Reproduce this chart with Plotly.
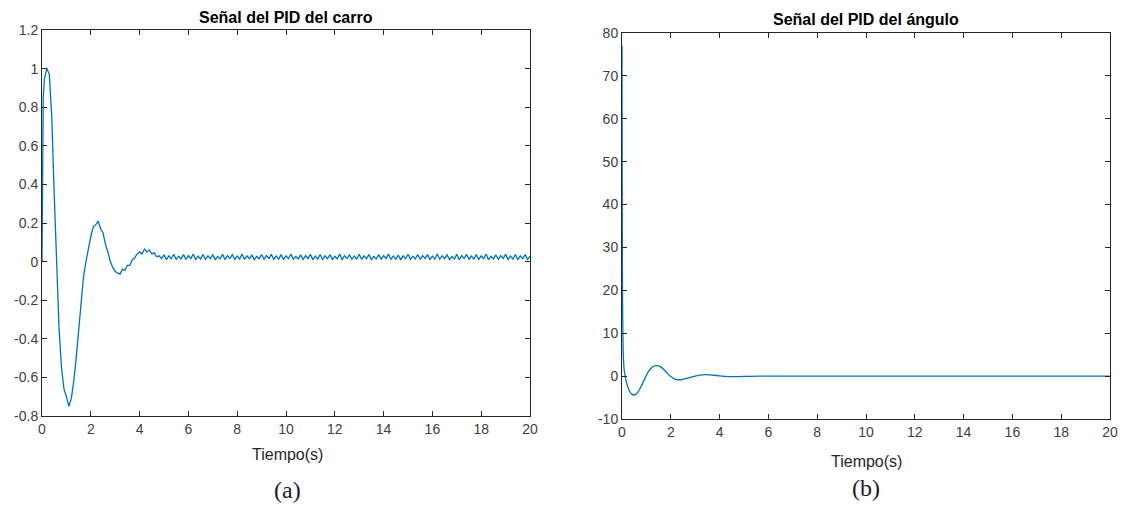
import numpy as np
import plotly.graph_objects as go

# ---------------- data: left panel (cart PID signal) ----------------
carro_t_early = [0.0, 0.05, 0.1, 0.2, 0.3, 0.4, 0.5, 0.6, 0.7, 0.8, 0.9, 1.0, 1.1, 1.2, 1.3,
                 1.4, 1.5, 1.6, 1.7, 1.8, 1.9, 2.0, 2.1, 2.2, 2.3, 2.4, 2.5, 2.6, 2.7, 2.8,
                 2.9, 3.0, 3.1, 3.2, 3.3, 3.4, 3.5, 3.6, 3.7, 3.8, 3.9, 4.0, 4.1, 4.2, 4.3,
                 4.4, 4.5, 4.6, 4.7, 4.8, 4.9]
carro_v_early = [0.0, 0.85, 0.95, 1.0, 0.97, 0.75, 0.35, -0.05, -0.35, -0.55, -0.66, -0.70,
                 -0.75, -0.71, -0.62, -0.50, -0.36, -0.20, -0.08, 0.0, 0.07, 0.13, 0.18, 0.19,
                 0.21, 0.17, 0.15, 0.09, 0.05, 0.0, -0.03, -0.05, -0.06, -0.065, -0.04, -0.045,
                 -0.02, -0.02, 0.01, 0.02, 0.04, 0.05, 0.04, 0.065, 0.05, 0.06, 0.04, 0.045,
                 0.025, 0.03, 0.015]
# steady-state ripple, sampled every 0.1 s from 5.0 s to 20.0 s
carro_v_ripple = [
    0.035, 0.010, 0.030, 0.015, 0.038, 0.012, 0.028, 0.014, 0.036, 0.011, 0.031, 0.016,
    0.039, 0.010, 0.029, 0.013, 0.037, 0.012, 0.030, 0.015, 0.035, 0.011, 0.027, 0.014,
    0.038, 0.010, 0.031, 0.016, 0.036, 0.012, 0.029, 0.013, 0.039, 0.011, 0.030, 0.015,
    0.034, 0.010, 0.028, 0.014, 0.037, 0.012, 0.031, 0.016, 0.038, 0.011, 0.029, 0.013,
    0.036, 0.010, 0.030, 0.015, 0.039, 0.012, 0.027, 0.014, 0.035, 0.011, 0.031, 0.016,
    0.038, 0.010, 0.029, 0.013, 0.037, 0.012, 0.030, 0.015, 0.036, 0.011, 0.028, 0.014,
    0.039, 0.010, 0.031, 0.016, 0.035, 0.012, 0.029, 0.013, 0.038, 0.011, 0.030, 0.015,
    0.037, 0.010, 0.027, 0.014, 0.036, 0.012, 0.031, 0.016, 0.039, 0.011, 0.029, 0.013,
    0.034, 0.010, 0.030, 0.015, 0.038, 0.012, 0.028, 0.014, 0.037, 0.011, 0.031, 0.016,
    0.036, 0.010, 0.029, 0.013, 0.039, 0.012, 0.030, 0.015, 0.035, 0.011, 0.027, 0.014,
    0.038, 0.010, 0.031, 0.016, 0.037, 0.012, 0.029, 0.013, 0.036, 0.011, 0.030, 0.015,
    0.039, 0.010, 0.028, 0.014, 0.035, 0.012, 0.031, 0.016, 0.038, 0.011, 0.029, 0.013,
    0.037, 0.010, 0.030, 0.015, 0.036, 0.012, 0.028,
]
carro_t_ripple = list(np.round(np.arange(5.0, 20.0001, 0.1), 2))

# ---------------- data: right panel (angle PID signal) ----------------
angulo_t = [0.0, 0.01, 0.02, 0.04, 0.06, 0.1, 0.2, 0.3, 0.4, 0.5, 0.6, 0.7, 0.8, 0.9, 1.0,
            1.1, 1.2, 1.3, 1.4, 1.5, 1.6, 1.7, 1.8, 1.9, 2.0, 2.1, 2.2, 2.3, 2.4, 2.5, 2.6,
            2.8, 3.0, 3.2, 3.4, 3.6, 3.8, 4.0, 4.4, 4.8, 5.2, 6.0, 8.0, 10.0, 12.0, 14.0,
            16.0, 18.0, 20.0]
angulo_v = [77.0, 40.0, 20.0, 8.0, 4.0, 1.0, -1.8, -3.4, -4.2, -4.4, -4.1, -3.3, -2.2, -1.0,
            0.2, 1.2, 1.9, 2.3, 2.45, 2.4, 2.1, 1.6, 1.0, 0.4, -0.1, -0.5, -0.75, -0.85,
            -0.85, -0.75, -0.6, -0.3, 0.0, 0.25, 0.35, 0.3, 0.2, 0.05, -0.1, -0.1, -0.05,
            0.0, 0.0, 0.0, 0.0, 0.0, 0.0, 0.0, 0.0]

# ---------------- ticks / labels ----------------
x_ticks = [0, 2, 4, 6, 8, 10, 12, 14, 16, 18, 20]
x_ticktext = ["0", "2", "4", "6", "8", "10", "12", "14", "16", "18", "20"]
y1_ticks = [1.2, 1.0, 0.8, 0.6, 0.4, 0.2, 0.0, -0.2, -0.4, -0.6, -0.8]
y1_ticktext = ["1.2", "1", "0.8", "0.6", "0.4", "0.2", "0", "-0.2", "-0.4", "-0.6", "-0.8"]
y2_ticks = [80, 70, 60, 50, 40, 30, 20, 10, 0, -10]
y2_ticktext = ["80", "70", "60", "50", "40", "30", "20", "10", "0", "-10"]

title_a = "Señal del PID del carro"
title_b = "Señal del PID del ángulo"
xlabel = "Tiempo(s)"
caption_a = "(a)"
caption_b = "(b)"

# the page body has an 8px margin, so the figure is drawn 8px in from the window corner
OFF = 8
W, H = 1126 - 2 * OFF, 512 - 2 * OFF
LINE = "#0072BD"
AX = "#262626"
TICKFONT = dict(family="Liberation Sans, Arial, sans-serif", size=14, color="#404040")

fig = go.Figure()
fig.add_trace(go.Scatter(x=carro_t_early + carro_t_ripple, y=carro_v_early + carro_v_ripple,
                         mode="lines", line=dict(color=LINE, width=1.3),
                         xaxis="x", yaxis="y", showlegend=False))
fig.add_trace(go.Scatter(x=angulo_t, y=angulo_v, mode="lines",
                         line=dict(color=LINE, width=1.3, shape="spline", smoothing=0.6),
                         xaxis="x2", yaxis="y2", showlegend=False))

def px(x):
    return (x - OFF) / W

def py(y):
    return 1 - (y - OFF) / H

axis_common = dict(showline=True, linecolor=AX, linewidth=1, mirror="ticks",
                   ticks="inside", ticklen=5, tickcolor=AX, showgrid=False,
                   zeroline=False, tickfont=TICKFONT, automargin=False)

fig.update_layout(
    width=W, height=H, margin=dict(l=0, r=0, t=0, b=0),
    paper_bgcolor="white", plot_bgcolor="white",
    xaxis=dict(domain=[px(42), px(530)], range=[0, 20], tickvals=x_ticks,
               ticktext=x_ticktext, anchor="y", **axis_common),
    yaxis=dict(domain=[py(416), py(30)], range=[-0.8, 1.2], tickvals=y1_ticks,
               ticktext=y1_ticktext, anchor="x", **axis_common),
    xaxis2=dict(domain=[px(622), px(1110)], range=[0, 20], tickvals=x_ticks,
                ticktext=x_ticktext, anchor="y2", **axis_common),
    yaxis2=dict(domain=[py(419), py(33)], range=[-10, 80], tickvals=y2_ticks,
                ticktext=y2_ticktext, anchor="x2", **axis_common),
)

ann_font_title = dict(family="Liberation Sans, Arial, sans-serif", size=16, color="#000000")
ann_font_lab = dict(family="Liberation Sans, Arial, sans-serif", size=16, color="#262626")
ann_font_cap = dict(family="Liberation Serif, Times New Roman, serif", size=24, color="#1a1a2a")

annotations = [
    dict(text="<b>" + title_a + "</b>", x=px(286), y=py(17), yanchor="middle", font=ann_font_title),
    dict(text="<b>" + title_b + "</b>", x=px(866), y=py(20), yanchor="middle", font=ann_font_title),
    dict(text=xlabel, x=px(287), y=py(454), yanchor="middle", font=ann_font_lab),
    dict(text=xlabel, x=px(866), y=py(461), yanchor="middle", font=ann_font_lab),
    dict(text=caption_a, x=px(287), y=py(504), yanchor="bottom", font=ann_font_cap),
    dict(text=caption_b, x=px(866), y=py(502), yanchor="bottom", font=ann_font_cap),
]
for a in annotations:
    a.update(xref="paper", yref="paper", xanchor="center", showarrow=False, borderpad=0)
fig.update_layout(annotations=annotations)

fig.write_html("out.html")
